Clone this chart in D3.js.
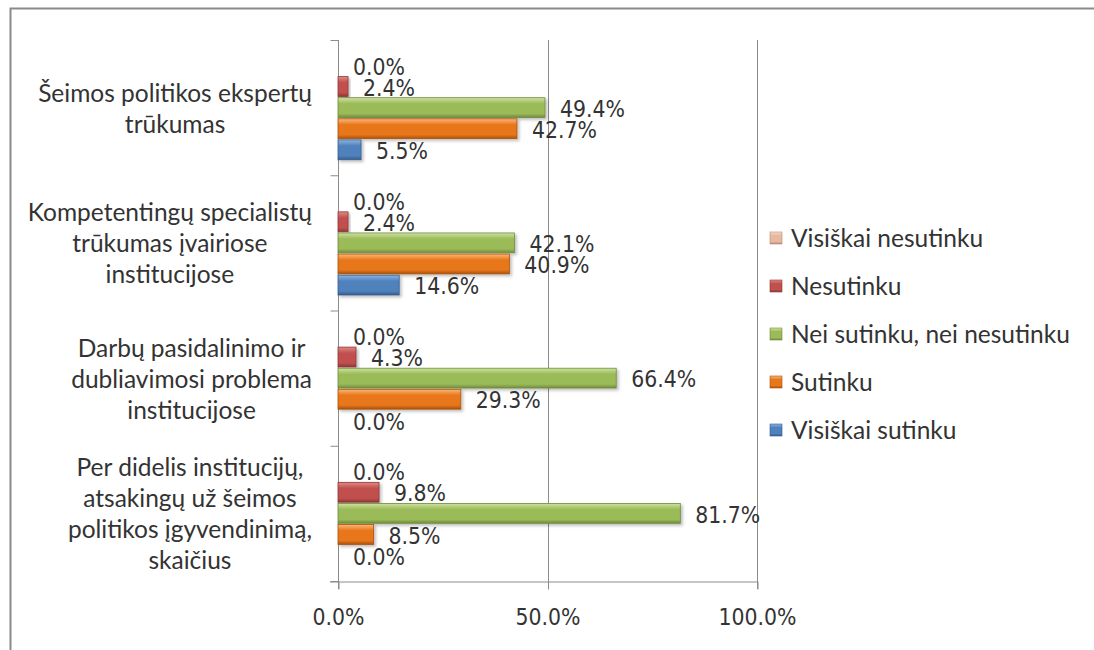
<!DOCTYPE html>
<html><head><meta charset="utf-8">
<script src="https://cdn.jsdelivr.net/npm/d3@7"></script>
<style>
body{margin:0;background:#fff;}
svg{display:block;}
</style></head>
<body>
<svg id="chart" width="1094" height="650"></svg>
<script>
const categories = [
  "Šeimos politikos ekspertų\ntrūkumas",
  "Kompetentingų specialistų\ntrūkumas įvairiose\ninstitucijose",
  "Darbų pasidalinimo ir\ndubliavimosi problema\ninstitucijose",
  "Per didelis institucijų,\natsakingų už šeimos\npolitikos įgyvendinimą,\nskaičius"
];
const seriesNames = ["Visiškai nesutinku","Nesutinku","Nei sutinku, nei nesutinku","Sutinku","Visiškai sutinku"];
const visiskaiNesutinku = [0.0, 0.0, 0.0, 0.0];
const nesutinku = [2.4, 2.4, 4.3, 9.8];
const neiSutinkuNeiNesutinku = [49.4, 42.1, 66.4, 81.7];
const sutinku = [42.7, 40.9, 29.3, 8.5];
const visiskaiSutinku = [5.5, 14.6, 0.0, 0.0];
const seriesValues = [visiskaiNesutinku, nesutinku, neiSutinkuNeiNesutinku, sutinku, visiskaiSutinku];
const xTicks = [0, 50, 100];

const colors = [
  {base:"#E6B9A0", light:"#F6DCCD", dark:"#B98A72"},
  {base:"#C0504D", light:"#E38A87", dark:"#8C3836"},
  {base:"#9BBB59", light:"#CDE3A0", dark:"#718B3E"},
  {base:"#E8771A", light:"#FBB878", dark:"#A9520C"},
  {base:"#4F81BD", light:"#8EB4E3", dark:"#355D8C"}
];

const svg = d3.select("#chart");
const numFont = "'DejaVu Sans Condensed','DejaVu Sans',sans-serif";
const catFont = "Lato, 'Open Sans', sans-serif";
const textCol = "#333333";

// fit font sizes to widths measured on the reference
function fitSize(family, sample, targetW){
  const t = svg.append("text").attr("font-family",family).attr("font-size",20).text(sample);
  const w = t.node().getComputedTextLength();
  t.remove();
  return 20*targetW/w;
}
const numSize = fitSize(numFont, "100.0%", 78);
const catSize = fitSize(catFont, "Šeimos politikos ekspertų", 274);

const defs = svg.append("defs");
colors.forEach((c,i)=>{
  const g = defs.append("linearGradient").attr("id","g"+i).attr("x1",0).attr("y1",0).attr("x2",0).attr("y2",1);
  g.append("stop").attr("offset","0%").attr("stop-color",c.light);
  g.append("stop").attr("offset","30%").attr("stop-color",c.base);
  g.append("stop").attr("offset","80%").attr("stop-color",c.base);
  g.append("stop").attr("offset","100%").attr("stop-color",c.dark);
});
const f = defs.append("filter").attr("id","sh").attr("x","-10%").attr("y","-30%").attr("width","130%").attr("height","180%");
f.append("feDropShadow").attr("dx",2).attr("dy",2).attr("stdDeviation",1.5).attr("flood-color","#000").attr("flood-opacity",0.25);

// frame
svg.append("path").attr("d","M10.5,650 V8.5 H1094").attr("fill","none").attr("stroke","#8a8a8a").attr("stroke-width",2);

const x = d3.scaleLinear().domain([0,100]).range([338,757]);
const y = d3.scaleBand().domain(d3.range(categories.length)).range([40,581]);
const inner = d3.scaleBand().domain(d3.range(seriesNames.length)).range([15.5, y.bandwidth()-15.5]).paddingInner(0.06);

const gridCol = "#8c8c8c";
svg.append("g").selectAll("line").data(xTicks.slice(1)).join("line")
  .attr("x1",d=>Math.round(x(d))+0.5).attr("x2",d=>Math.round(x(d))+0.5)
  .attr("y1",40).attr("y2",589).attr("stroke",gridCol).attr("stroke-width",1);

// x axis
const xAxis = d3.axisBottom(x).tickValues(xTicks).tickFormat(d=>d.toFixed(1)+"%").tickSize(8).tickPadding(19);
const gx = svg.append("g").attr("transform","translate(0,581.5)").call(xAxis);
gx.select(".domain").attr("d","M330,0.5 H757").attr("stroke",gridCol);
gx.selectAll(".tick line").attr("stroke",gridCol).attr("transform","translate(0.5,0)");
gx.selectAll(".tick text").attr("font-family",numFont).attr("font-size",numSize).attr("fill",textCol);

// y axis
const yAxis = d3.axisLeft(d3.scaleLinear().domain([0,4]).range([40,581])).tickValues([0,1,2,3,4]).tickFormat("").tickSize(8);
const gy = svg.append("g").attr("transform","translate(338.5,0)").call(yAxis);
gy.select(".domain").attr("d","M0,40 V589").attr("stroke",gridCol);
gy.selectAll(".tick line").attr("stroke",gridCol);

// bars
const groups = svg.append("g").selectAll("g").data(categories).join("g")
  .attr("transform",(d,i)=>`translate(0,${y(i)})`);
groups.each(function(cat, ci){
  const g = d3.select(this);
  seriesValues.forEach((vals, si)=>{
    const v = vals[ci];
    const by = inner(si), bh = inner.bandwidth();
    if (v > 0) {
      g.append("rect").attr("x",x(0)).attr("y",by).attr("width",x(v)-x(0)).attr("height",bh)
        .attr("fill",`url(#g${si})`).attr("stroke",colors[si].dark).attr("stroke-width",0.8)
        .attr("filter","url(#sh)");
    }
  });
  seriesValues.forEach((vals, si)=>{
    const v = vals[ci];
    const by = inner(si), bh = inner.bandwidth();
    g.append("text").attr("x",x(v)+15).attr("y",by+bh/2+1).attr("dy","0.36em")
      .attr("font-family",numFont).attr("font-size",numSize).attr("fill",textCol).text(v.toFixed(1)+"%");
  });
});

// category labels
const lineH = 31;
categories.forEach((cat, ci)=>{
  const lines = cat.split("\n");
  const t = svg.append("text").attr("font-family",catFont).attr("font-size",catSize).attr("fill",textCol).attr("text-anchor","middle");
  const cy = y(ci) + y.bandwidth()/2 + 1;
  lines.forEach((ln, li)=>{
    t.append("tspan").attr("x",0).attr("y", cy + (li - (lines.length-1)/2)*lineH).attr("dy","0.35em").text(ln);
  });
  let maxW = 0;
  t.selectAll("tspan").each(function(){ maxW = Math.max(maxW, this.getComputedTextLength()); });
  const cx = 312 - maxW/2;
  t.selectAll("tspan").attr("x",cx);
});

// legend
const legend = svg.append("g").selectAll("g").data(seriesNames).join("g")
  .attr("transform",(d,i)=>`translate(770,${238 + i*48})`);
legend.append("rect").attr("x",0).attr("y",-6).attr("width",12).attr("height",12)
  .attr("fill",(d,i)=>`url(#g${i})`).attr("stroke",(d,i)=>colors[i].dark).attr("stroke-width",0.6);
legend.append("text").attr("x",21).attr("y",0).attr("dy","0.35em")
  .attr("font-family",catFont).attr("font-size",catSize).attr("fill",textCol).text(d=>d);
</script>
</body></html>
